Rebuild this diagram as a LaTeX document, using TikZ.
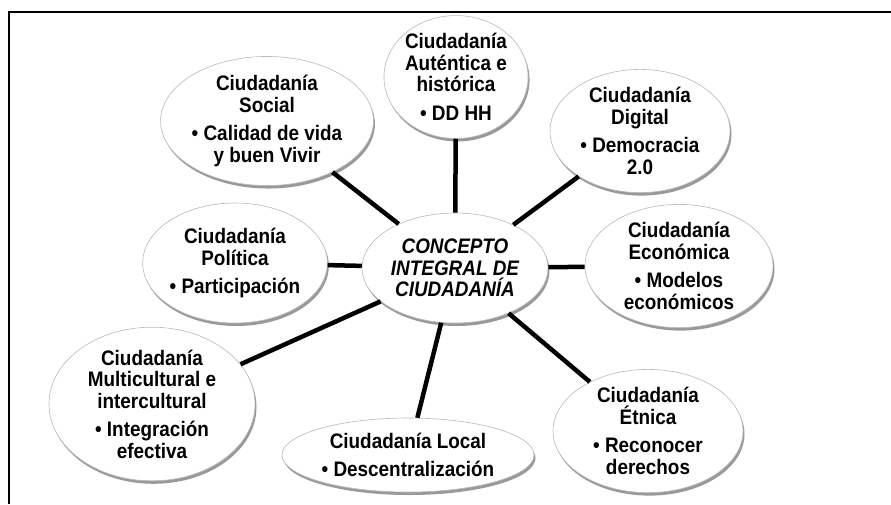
\documentclass[tikz,border=0pt]{standalone}
\usepackage{fontspec}
\setmainfont{Liberation Sans}[FakeStretch=0.9]
\usetikzlibrary{shapes.geometric,shadows}

\begin{document}
\begin{tikzpicture}
[
x=1pt,y=-1pt,
idea/.style={ellipse,draw=gray!55,line width=0.6pt,fill=white,inner sep=0pt,align=center,
  drop shadow={shadow xshift=1.5pt,shadow yshift=-3pt,opacity=0.4,fill=black},
  font=\bfseries\fontsize{21}{21.5}\selectfont},
link/.style={line width=4.5pt,black}
]
\useasboundingbox (0,0) rectangle (891,504);
\draw[line width=1.8pt] (891,12) -- (9,12) -- (9,504);

\node[idea,minimum width=186pt,minimum height=110pt,font=\bfseries\itshape\fontsize{21}{21.5}\selectfont]
  (centro) at (455,268) {CONCEPTO\\INTEGRAL DE\\CIUDADANÍA};

\node[idea,minimum width=142pt,minimum height=114pt] (autentica) at (456,77)
  {Ciudadanía\\Auténtica e\\histórica\\[7pt]\textbullet{} DD HH};
\node[idea,minimum width=210pt,minimum height=116pt] (social) at (267,121)
  {Ciudadanía\\Social\\[7pt]\textbullet{} Calidad de vida\\y buen Vivir};
\node[idea,minimum width=180pt,minimum height=106pt] (digital) at (640,131)
  {Ciudadanía\\Digital\\[7pt]\textbullet{} Democracia\\2.0};
\node[idea,minimum width=188pt,minimum height=114pt] (economica) at (679,266)
  {Ciudadanía\\Económica\\[7pt]\textbullet{} Modelos\\económicos};
\node[idea,minimum width=184pt,minimum height=120pt] (politica) at (235,263)
  {Ciudadanía\\Política\\[7pt]\textbullet{} Participación};
\node[idea,minimum width=206pt,minimum height=132pt] (multi) at (152,404)
  {Ciudadanía\\Multicultural e\\intercultural\\[7pt]\textbullet{} Integración\\efectiva};
\node[idea,minimum width=252pt,minimum height=74pt] (local) at (408,455)
  {Ciudadanía Local\\[7pt]\textbullet{} Descentralización};
\node[idea,minimum width=190pt,minimum height=112pt] (etnica) at (648,431)
  {Ciudadanía\\Étnica\\[7pt]\textbullet{} Reconocer\\derechos};

% spokes
\foreach \n in {autentica,social,digital,economica,politica,multi,local,etnica}
  \draw[link] (centro) -- (\n);
\end{tikzpicture}
\end{document}
